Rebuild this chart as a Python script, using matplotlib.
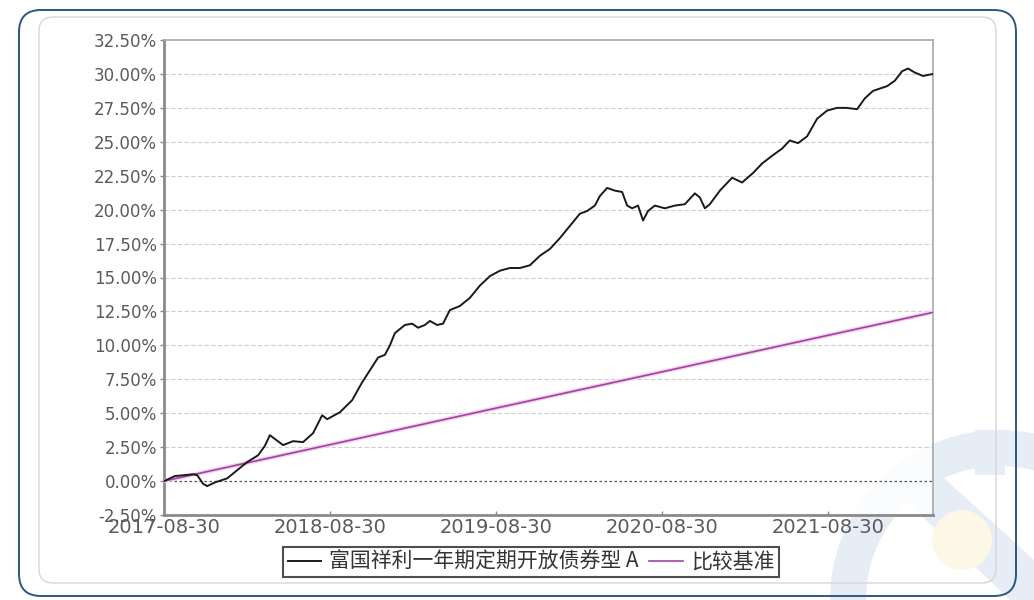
import matplotlib
matplotlib.use("Agg")
from matplotlib import pyplot as plt
from matplotlib.patches import FancyBboxPatch, Wedge, Circle, Polygon
import pandas as pd

# fund cumulative return (%)
fund_dates = [
    "2017-08-30", "2017-09-23", "2017-10-15", "2017-11-02", "2017-11-11", "2017-11-24",
    "2017-12-03", "2017-12-20", "2018-01-16", "2018-02-07", "2018-03-01", "2018-03-25",
    "2018-04-09", "2018-04-20", "2018-05-19", "2018-06-10", "2018-07-02", "2018-07-24",
    "2018-08-13", "2018-08-24", "2018-09-21", "2018-10-18", "2018-11-09", "2018-11-26",
    "2018-12-14", "2018-12-29", "2019-01-09", "2019-01-20", "2019-02-11", "2019-02-27",
    "2019-03-12", "2019-03-27", "2019-04-07", "2019-04-23", "2019-05-06", "2019-05-21",
    "2019-06-12", "2019-07-04", "2019-07-26", "2019-08-17", "2019-09-08", "2019-09-30",
    "2019-10-22", "2019-11-13", "2019-12-05", "2019-12-27", "2020-01-18", "2020-02-09",
    "2020-03-02", "2020-03-18", "2020-04-04", "2020-04-15", "2020-05-01", "2020-05-18",
    "2020-06-03", "2020-06-14", "2020-06-25", "2020-07-08", "2020-07-19", "2020-07-30",
    "2020-08-14", "2020-09-05", "2020-09-27", "2020-10-19", "2020-11-10", "2020-11-21",
    "2020-12-02", "2020-12-13", "2021-01-04", "2021-01-31", "2021-02-22", "2021-03-18",
    "2021-04-07", "2021-04-29", "2021-05-21", "2021-06-07", "2021-06-25", "2021-07-15",
    "2021-08-06", "2021-08-28", "2021-09-19", "2021-10-10", "2021-11-02", "2021-11-19",
    "2021-12-07", "2022-01-07", "2022-01-24", "2022-02-09", "2022-02-22", "2022-03-09",
    "2022-03-27", "2022-04-18",
]
fund_values = [
    0.00, 0.37, 0.44, 0.50, 0.44, -0.20,
    -0.37, -0.10, 0.20, 0.80, 1.40, 1.90,
    2.60, 3.38, 2.65, 2.94, 2.87, 3.53,
    4.85, 4.56, 5.07, 5.96, 7.28, 8.16,
    9.10, 9.30, 10.00, 10.90, 11.50, 11.60,
    11.30, 11.50, 11.80, 11.50, 11.60, 12.60,
    12.90, 13.50, 14.40, 15.10, 15.50, 15.70,
    15.70, 15.90, 16.60, 17.10, 17.90, 18.80,
    19.70, 19.90, 20.30, 21.00, 21.60, 21.40,
    21.30, 20.30, 20.10, 20.30, 19.20, 19.90,
    20.30, 20.10, 20.30, 20.40, 21.20, 20.90,
    20.10, 20.40, 21.40, 22.35, 22.00, 22.70,
    23.40, 23.97, 24.50, 25.10, 24.90, 25.40,
    26.70, 27.30, 27.50, 27.50, 27.40, 28.20,
    28.75, 29.10, 29.50, 30.20, 30.40, 30.10,
    29.85, 30.00,
]

# benchmark (%)
bench_dates = ["2017-08-30", "2018-08-30", "2019-08-30", "2020-08-30", "2021-08-30", "2022-04-18"]
bench_values = [0.00, 2.68, 5.37, 8.05, 10.74, 12.43]

x_ticks = ["2017-08-30", "2018-08-30", "2019-08-30", "2020-08-30", "2021-08-30"]
y_ticks = [-2.5, 0, 2.5, 5, 7.5, 10, 12.5, 15, 17.5, 20, 22.5, 25, 27.5, 30, 32.5]

fund_name = "富国祥利一年期定期开放债券型 A"
bench_name = "比较基准"

plt.rcParams['font.family'] = ['DejaVu Sans']

fig = plt.figure(figsize=(10.34, 6), dpi=100)
fig.patch.set_facecolor('white')

# faint watermark logo in the bottom right corner (pixel coords, origin bottom-left)
logo = '#e6edf6'
fig.patches.append(Wedge((1000, 0), 170, 25, 185, width=36, transform=None,
                         facecolor=logo, edgecolor='none', zorder=0))
fig.patches.append(Polygon([(975, 170), (1005, 170), (1005, 125), (975, 125)], closed=True,
                           transform=None, facecolor=logo, edgecolor='none', zorder=0))
fig.patches.append(Polygon([(905, 100), (935, 130), (1034, 40), (1034, 0), (1010, 0)], closed=True,
                           transform=None, facecolor=logo, edgecolor='none', zorder=0))
fig.patches.append(Circle((962, 60), 30, transform=None,
                          facecolor='#fdf7e8', edgecolor='none', zorder=0))

# outer frame + inner card
fig.patches.append(FancyBboxPatch((19, 4), 997, 586, boxstyle="round,pad=0,rounding_size=22",
                                  transform=None, facecolor='none', edgecolor='#2e5680',
                                  linewidth=1.4, zorder=1))
fig.patches.append(FancyBboxPatch((39, 17), 957, 566, boxstyle="round,pad=0,rounding_size=14",
                                  transform=None, facecolor='none', edgecolor='#d6d6d6',
                                  linewidth=1.0, zorder=1))

ax = fig.add_axes([164 / 1034, 1 - 515 / 600, (933 - 164) / 1034, (515 - 40) / 600])
ax.set_zorder(3)
ax.patch.set_facecolor('white')
ax.patch.set_alpha(0.85)

fd = pd.to_datetime(fund_dates)
bd = pd.to_datetime(bench_dates)

ax.plot(bd, bench_values, color='#f4cdef', linewidth=3.0, solid_capstyle='butt', zorder=3)
l2, = ax.plot(bd, bench_values, color='#a0459f', linewidth=1.2, zorder=4)
l1, = ax.plot(fd, fund_values, color='#1a1a1a', linewidth=1.4, zorder=5)

ax.set_ylim(-2.5, 32.5)
ax.set_xlim(pd.Timestamp("2017-08-30"), pd.Timestamp("2022-04-18"))
ax.set_yticks(y_ticks)
ax.set_yticklabels([f"{v:.2f}%" for v in y_ticks], fontsize=12, color='#5a5a5a')
ax.set_xticks(pd.to_datetime(x_ticks))
ax.set_xticklabels(x_ticks, fontsize=14, color='#5a5a5a')

for v in y_ticks[1:-1]:
    if v == 0:
        ax.axhline(v, color='#555555', linestyle=(0, (2, 2)), linewidth=0.9, zorder=2)
    else:
        ax.axhline(v, color='#cfcfcf', linestyle=(0, (4, 2)), linewidth=0.8, zorder=2)

for s in ['left', 'bottom']:
    ax.spines[s].set_color('#8a8a8a')
    ax.spines[s].set_linewidth(2.0)
for s in ['top', 'right']:
    ax.spines[s].set_color('#a8a8a8')
    ax.spines[s].set_linewidth(1.2)

ax.tick_params(axis='y', length=3, width=1, color='#888888', pad=2)
ax.tick_params(axis='x', length=3, width=1, color='#888888', direction='in', pad=2)

leg = fig.legend([l1, l2], [fund_name, bench_name], loc='center',
                 bbox_to_anchor=(531 / 1034, 1 - 562 / 600), ncol=2,
                 frameon=True, fancybox=False, handlelength=1.6, handletextpad=0.4,
                 columnspacing=0.5, borderpad=0.2,
                 prop={'family': ['Noto Sans CJK SC', 'DejaVu Sans'], 'size': 15})
leg.get_frame().set_edgecolor('#222222')
leg.get_frame().set_linewidth(1.5)
leg.set_zorder(4)
for t in leg.get_texts():
    t.set_color('#333333')

fig.savefig('out.png', dpi=100)
